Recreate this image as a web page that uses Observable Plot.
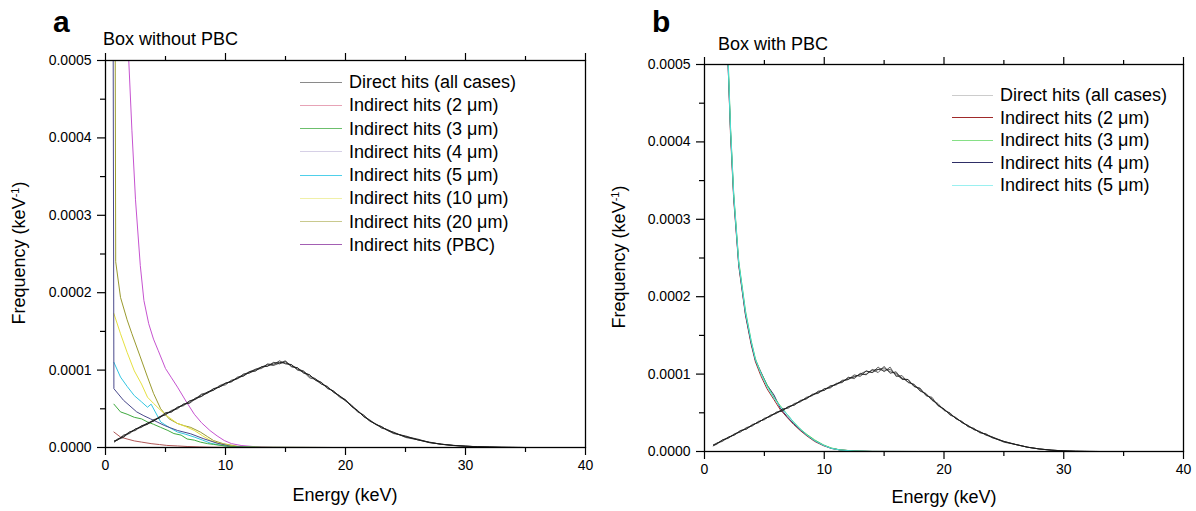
<!DOCTYPE html>
<html><head><meta charset="utf-8">
<script src="https://cdn.jsdelivr.net/npm/d3@7"></script>
<script src="https://cdn.jsdelivr.net/npm/@observablehq/plot@0.6"></script>
<style>
body{margin:0;background:#fff;font-family:"Liberation Sans",Arial,sans-serif;}
#wrap{position:relative;width:1196px;height:511px;overflow:hidden;background:#fff;}
.abs{position:absolute;white-space:nowrap;color:#000;line-height:1;transform:translate(0,-50%);}
.svgbox{position:absolute;top:0;}
.leg{position:absolute;font-size:18px;line-height:1;white-space:nowrap;transform:translate(0,-50%);display:flex;align-items:center;}
.leg span.ln{display:inline-block;height:0;border-top:1.2px solid #000;margin-right:7px;}
.ytitle{position:absolute;font-size:18px;white-space:nowrap;transform:translate(-50%,-50%) rotate(-90deg);line-height:1;}
.ytitle sup{font-size:11px;vertical-align:6px;line-height:0;}
</style></head><body><div id="wrap"></div>
<script>
// ---------------- data (values in units of 1e-5 keV^-1) ----------------
const xTicksMajor = [0, 10, 20, 30, 40];
const xTicksMinor = [5, 15, 25, 35];
const yTicksMajor = [0, 0.0001, 0.0002, 0.0003, 0.0004, 0.0005];
const yTicksMinor = [0.00005, 0.00015, 0.00025, 0.00035, 0.00045];

const energyDirect = [0.75,1,1.5,2,2.5,3,3.5,4,4.5,5,5.5,6,6.5,7,7.5,8,8.5,9,9.5,10,10.5,11,11.5,12,12.5,13,13.5,14,14.5,15,15.5,16,16.5,17,17.5,18,18.5,19,19.5,20,20.5,21,21.5,22,22.5,23,23.5,24,25,26,27,28,29,30,31,32,33,34,35];

const directLeft1 = [0.8,1.1,1.4,1.9,2.4,2.6,3.2,3.4,4.0,4.2,4.8,5.0,5.6,5.8,6.4,6.6,7.2,7.4,7.9,8.1,8.7,8.9,9.5,9.6,10.1,10.2,10.8,10.7,11.2,10.8,10.7,10.1,9.9,9.2,8.9,8.2,7.9,7.1,6.7,6.0,5.5,4.6,4.2,3.4,3.1,2.5,2.3,1.9,1.4,1.0,0.66,0.40,0.28,0.16,0.10,0.05,0.03,0.01,0];
const directLeft2 = [0.7,1.0,1.5,2.0,2.2,2.8,3.0,3.6,3.8,4.4,4.6,5.2,5.4,6.0,6.2,6.8,7.0,7.6,7.8,8.3,8.5,9.1,9.2,9.8,9.9,10.4,10.5,11.0,10.8,11.1,10.5,10.3,9.6,9.4,8.7,8.4,7.6,7.3,6.6,6.2,5.3,4.8,4.0,3.6,3.0,2.7,2.2,2.0,1.3,1.0,0.62,0.44,0.26,0.18,0.09,0.06,0.02,0.01,0];
const directLeft3 = [0.9,0.95,1.6,1.8,2.4,2.7,3.0,3.5,3.9,4.5,4.6,5.1,5.6,5.7,6.3,6.9,7.1,7.4,8.0,8.3,8.5,9.0,9.4,9.8,10.1,10.4,10.5,10.9,11.0,10.9,10.7,10.0,9.8,9.0,8.8,8.4,7.7,7.3,6.5,6.1,5.4,4.8,4.0,3.5,3.0,2.7,2.2,1.8,1.5,1.0,0.70,0.41,0.27,0.17,0.11,0.06,0.03,0.02,0];
const directLeft4 = [0.8,1.0,1.3,2.0,2.3,2.8,3.1,3.4,3.9,4.3,4.7,5.2,5.5,6.0,6.3,6.6,7.1,7.6,7.8,8.3,8.6,8.9,9.3,9.7,9.9,10.4,10.7,10.6,10.9,11.2,10.4,10.3,9.7,9.4,8.7,8.2,7.8,7.2,6.7,6.1,5.3,4.7,4.2,3.5,3.0,2.6,2.3,1.9,1.4,1.1,0.64,0.43,0.25,0.17,0.10,0.07,0.03,0.01,0];

const directRight1 = [0.8,1.0,1.5,1.7,2.3,2.5,3.1,3.3,3.9,4.1,4.7,4.9,5.5,5.6,6.2,6.4,7.0,7.2,7.8,7.9,8.5,8.6,9.2,9.3,9.9,9.7,10.4,10.2,10.9,10.3,10.9,9.7,9.8,8.9,8.7,7.8,7.5,6.6,6.2,5.3,5.0,4.2,3.9,3.2,3.0,2.4,2.3,1.8,1.3,0.9,0.56,0.31,0.17,0.08,0.03,0.01,0,0,0];
const directRight2 = [0.7,1.1,1.3,1.9,2.1,2.7,2.9,3.5,3.7,4.3,4.5,5.1,5.2,5.8,6.0,6.6,6.8,7.4,7.5,8.1,8.2,8.8,8.9,9.6,9.4,10.1,9.9,10.6,10.2,11.0,10.1,10.3,9.3,9.3,8.4,8.2,7.2,7.0,5.9,5.5,4.7,4.4,3.7,3.4,2.8,2.6,2.1,1.9,1.2,0.9,0.54,0.33,0.16,0.08,0.03,0.01,0,0,0];
const directRight3 = [0.8,0.9,1.5,1.8,2.2,2.6,3.0,3.4,3.8,4.2,4.6,5.0,5.3,5.8,6.0,6.5,6.9,7.3,7.7,7.9,8.4,8.7,9.0,9.5,9.6,10.0,10.4,10.2,10.6,10.5,10.6,9.9,9.4,9.3,8.4,8.1,7.3,6.8,6.0,5.5,4.8,4.3,3.8,3.3,2.9,2.5,2.2,1.8,1.3,0.9,0.55,0.32,0.18,0.08,0.03,0.01,0,0,0];
const directRight4 = [0.9,1.0,1.4,1.8,2.2,2.7,2.9,3.4,3.8,4.2,4.6,5.0,5.4,5.7,6.1,6.5,6.8,7.3,7.6,8.1,8.3,8.7,9.1,9.3,9.7,9.9,10.0,10.5,10.6,10.8,10.3,10.1,9.5,9.0,8.6,7.9,7.4,6.7,6.0,5.4,4.9,4.3,3.8,3.3,2.9,2.5,2.2,1.9,1.3,0.9,0.55,0.32,0.17,0.08,0.03,0.01,0,0,0];

// Box without PBC, indirect hits
const leftE_2um  = [0.7,1.25,1.8,2.4,3.0,3.8,4.5,5.1,6.0,6.8,7.8,8.8,10,12,15,19];
const leftV_2um  = [2.0,1.35,1.1,0.85,0.7,0.5,0.38,0.27,0.2,0.13,0.08,0.04,0.02,0.01,0,0];
const leftE_3um  = [0.7,1.25,1.8,2.4,3.0,3.5,4.0,4.6,5.2,5.7,6.3,6.8,7.4,7.9,8.5,9.0,10.1,11,13,19];
const leftV_3um  = [5.6,4.6,4.3,3.9,3.7,3.3,3.0,2.6,2.2,1.8,1.6,1.1,0.95,0.7,0.5,0.4,0.17,0.08,0.02,0];
const leftE_4um  = [0.6,0.7,1.5,2.6,3.2,3.75,4.3,4.9,5.4,6.0,7.1,8.2,9.3,10.4,11.5,13,19];
const leftV_4um  = [80,7.6,6.1,4.6,4.1,3.7,3.3,2.85,2.55,2.2,1.77,1.12,0.56,0.17,0.06,0.01,0];
const leftE_5um  = [0.7,1.25,1.8,2.4,3.0,3.5,3.8,4.6,5.3,6.0,6.7,7.4,8.1,8.75,9.4,10.1,11,13,19];
const leftV_5um  = [11.0,9.1,7.9,6.7,5.9,5.2,5.6,3.3,2.6,2.0,1.7,1.35,0.95,0.56,0.35,0.17,0.06,0.01,0];
const leftE_10um = [0.7,1.25,1.8,2.4,3.0,3.5,4.0,4.6,5.2,6.0,6.7,7.4,8.1,8.75,9.3,9.9,11,13,19];
const leftV_10um = [17.3,14.7,12.3,9.9,8.2,6.5,5.7,4.8,4.0,3.1,2.7,2.2,1.5,0.9,0.6,0.4,0.12,0.02,0];
const leftE_20um = [0.75,0.85,1.25,1.8,2.2,2.9,3.5,4.0,4.6,5.3,6.0,6.6,7.1,7.9,8.5,9.0,9.8,11,13,19];
const leftV_20um = [90,24,19.4,16.5,14.7,11.7,9.1,7.0,5.0,3.7,3.1,2.8,2.6,2.0,1.4,0.9,0.5,0.15,0.02,0];
const leftE_PBC  = [1.5,1.94,2.2,2.5,2.9,3.2,3.6,4.0,4.4,5.0,5.5,6.0,6.7,7.4,8.0,8.7,9.3,9.9,10.5,11.3,12.5,14,19];
const leftV_PBC  = [75,50,41,32,23.5,19,16,14,12.5,10.2,9.0,7.8,6.0,4.3,3.2,2.2,1.5,0.9,0.5,0.26,0.1,0.03,0];

// Box with PBC, indirect hits
const rightE     = [1.5,1.97,2.17,2.44,2.86,3.42,3.9,4.25,4.7,5.22,5.8,6.33,6.9,7.44,8.0,8.56,9.2,9.94,10.6,11.3,12.5,14,18];
const rightV_2um = [80,50,41,32.5,24,17.6,13.8,11.6,9.8,8.1,6.7,5.4,4.4,3.5,2.7,2.0,1.3,0.75,0.4,0.2,0.06,0.01,0];
const rightV_3um = [80,51,42,33.3,24.6,18.2,14.3,12.0,10.2,8.6,7.0,5.9,4.8,3.8,2.9,2.2,1.5,0.85,0.45,0.22,0.07,0.01,0];
const rightV_4um = [80,50,41.5,32.9,24.2,17.8,14.0,11.8,10.3,8.6,7.3,5.6,4.5,3.6,2.8,2.1,1.4,0.8,0.4,0.2,0.06,0.01,0];
const rightV_5um = [80,50.5,41.8,33.1,24.4,18.0,14.2,11.9,10.1,8.4,6.9,5.8,4.8,3.8,2.9,2.1,1.4,0.8,0.4,0.2,0.06,0.01,0];

const leftLabels  = ["Direct hits (all cases)","Indirect hits (2 \u03bcm)","Indirect hits (3 \u03bcm)","Indirect hits (4 \u03bcm)","Indirect hits (5 \u03bcm)","Indirect hits (10 \u03bcm)","Indirect hits (20 \u03bcm)","Indirect hits (PBC)"];
const leftLegendColors = ["#8a8a8a","#e7a3b6","#6cbf6c","#d6d0e6","#4fd0ea","#f0f0a8","#c9c98e","#a35fb3"];
const leftCurveColors  = ["#1a1a1a","#b05858","#3faa3f","#4a4a8c","#33c6e2","#e6e040","#9a9a2e","#c653d0"];
const rightLabels = ["Direct hits (all cases)","Indirect hits (2 \u03bcm)","Indirect hits (3 \u03bcm)","Indirect hits (4 \u03bcm)","Indirect hits (5 \u03bcm)"];
const rightLegendColors = ["#cccccc","#a02a2a","#86e086","#2e2e66","#9af0f0"];
const rightCurveColors  = ["#1a1a1a","#a03030","#4fcf4f","#303070","#4fdede"];

// ---------------- helpers ----------------
const rows = (E, V) => E.map((e, i) => ({e, v: V[i] * 1e-5}));
const FONT = '"Liberation Sans", Arial, sans-serif';

function axes() {
  return [
    Plot.axisX({anchor: "bottom", ticks: xTicksMajor, tickSize: 8, tickPadding: 5, fontSize: 14, label: null, strokeWidth: 1.2}),
    Plot.axisX({anchor: "bottom", ticks: xTicksMinor, tickSize: 5, tickFormat: () => "", label: null, strokeWidth: 1.2}),
    Plot.axisX({anchor: "top", ticks: xTicksMajor, tickSize: 8, tickFormat: () => "", label: null, strokeWidth: 1.2}),
    Plot.axisX({anchor: "top", ticks: xTicksMinor, tickSize: 5, tickFormat: () => "", label: null, strokeWidth: 1.2}),
    Plot.axisY({anchor: "left", ticks: yTicksMajor, tickSize: 8, tickPadding: 6, fontSize: 14, tickFormat: d => d.toFixed(4), label: null, strokeWidth: 1.2}),
    Plot.axisY({anchor: "left", ticks: yTicksMinor, tickSize: 5, tickFormat: () => "", label: null, strokeWidth: 1.2}),
    Plot.frame({stroke: "#000", strokeWidth: 1.3})
  ];
}

function panel(opts) {
  return Plot.plot({
    width: 598, height: 511,
    marginLeft: opts.mL, marginRight: opts.mR, marginTop: opts.mT, marginBottom: opts.mB,
    x: {domain: [0, 40]},
    y: {domain: [0, 0.0005]},
    style: {fontFamily: FONT, fontSize: "14px", color: "#000", background: "transparent", overflow: "visible"},
    marks: [...opts.marks, ...axes()]
  });
}

const lineOpt = (c, w = 1) => ({x: "e", y: "v", stroke: c, strokeWidth: w, clip: true, curve: "linear"});

const leftMarks = [
  Plot.line(rows(leftE_PBC, leftV_PBC), lineOpt(leftCurveColors[7])),
  Plot.line(rows(leftE_20um, leftV_20um), lineOpt(leftCurveColors[6])),
  Plot.line(rows(leftE_10um, leftV_10um), lineOpt(leftCurveColors[5])),
  Plot.line(rows(leftE_5um, leftV_5um), lineOpt(leftCurveColors[4])),
  Plot.line(rows(leftE_4um, leftV_4um), lineOpt(leftCurveColors[3])),
  Plot.line(rows(leftE_3um, leftV_3um), lineOpt(leftCurveColors[2])),
  Plot.line(rows(leftE_2um, leftV_2um), lineOpt(leftCurveColors[1])),
  ...[directLeft1, directLeft2, directLeft3, directLeft4].map(V => Plot.line(rows(energyDirect, V), lineOpt(leftCurveColors[0], 0.75)))
];
const rightMarks = [
  Plot.line(rows(rightE, rightV_2um), lineOpt(rightCurveColors[1])),
  Plot.line(rows(rightE, rightV_4um), lineOpt(rightCurveColors[3])),
  Plot.line(rows(rightE, rightV_3um), lineOpt(rightCurveColors[2])),
  Plot.line(rows(rightE, rightV_5um), lineOpt(rightCurveColors[4])),
  ...[directRight1, directRight2, directRight3, directRight4].map(V => Plot.line(rows(energyDirect, V), lineOpt(rightCurveColors[0], 0.7)))
];

const wrap = document.getElementById("wrap");
function place(node, left) {
  const d = document.createElement("div");
  d.className = "svgbox"; d.style.left = left + "px";
  d.appendChild(node); wrap.appendChild(d);
}
place(panel({mL: 105, mR: 13, mT: 60, mB: 64, marks: leftMarks}), 0);
place(panel({mL: 106, mR: 13, mT: 64, mB: 60, marks: rightMarks}), 598);

function text(str, x, y, size, extra = "") {
  const d = document.createElement("div");
  d.className = "abs";
  d.style.cssText = `left:${x}px;top:${y}px;font-size:${size}px;${extra}`;
  d.textContent = str; wrap.appendChild(d); return d;
}
text("a", 53, 22, 30, "font-weight:bold;");
text("b", 652, 22, 30, "font-weight:bold;");
text("Box without PBC", 103, 38.5, 18);
text("Box with PBC", 718, 43.5, 18);
const ex1 = text("Energy (keV)", 345, 495, 18); ex1.style.transform = "translate(-50%,-50%)";
const ex2 = text("Energy (keV)", 944, 497, 18); ex2.style.transform = "translate(-50%,-50%)";

function ytitle(x, y) {
  const d = document.createElement("div");
  d.className = "ytitle";
  d.style.left = x + "px"; d.style.top = y + "px";
  d.innerHTML = "Frequency (keV<sup>-1</sup>)";
  wrap.appendChild(d);
}
ytitle(19, 253);
ytitle(619, 257);

function legend(labels, colors, x0, lineW, y0, dy) {
  labels.forEach((lab, i) => {
    const d = document.createElement("div");
    d.className = "leg";
    d.style.left = x0 + "px"; d.style.top = (y0 + i * dy) + "px";
    const s = document.createElement("span");
    s.className = "ln"; s.style.width = lineW + "px"; s.style.borderTopColor = colors[i];
    d.appendChild(s);
    const t = document.createElement("span"); t.textContent = lab; d.appendChild(t);
    wrap.appendChild(d);
  });
}
legend(leftLabels, leftLegendColors, 300, 42, 82, 23.25);
legend(rightLabels, rightLegendColors, 952, 41, 95, 22.5);
</script>
</body></html>
